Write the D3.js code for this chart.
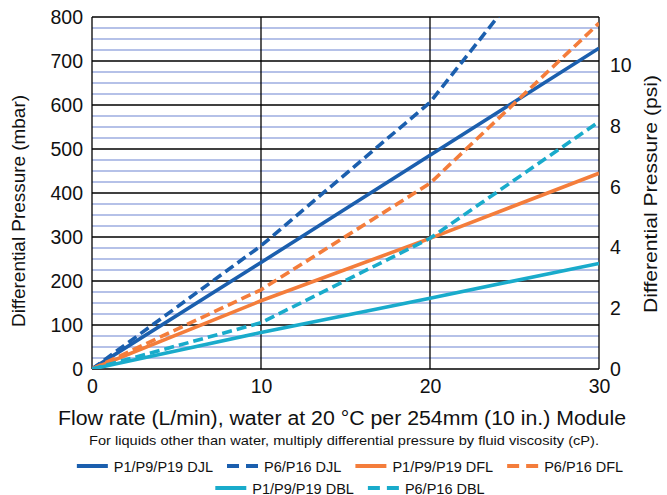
<!DOCTYPE html>
<html>
<head>
<meta charset="utf-8">
<script src="https://cdn.jsdelivr.net/npm/d3@7"></script>
<style>
  body { margin: 0; background: #fff; }
  text { font-family: "Liberation Sans", Arial, Helvetica, sans-serif; fill: #111; }
</style>
</head>
<body>
<div class="chart"></div>
<script>
// flow rate (L/min) and differential pressure (mbar)
const flow = [0, 10, 20, 30];
const djlSolid  = [0, 242, 486, 729];
const djlDashed = [0, 280, 606, 1090];
const dflSolid  = [0, 155, 297, 445];
const dflDashed = [0, 180, 422, 786];
const dblSolid  = [0, 83, 161, 240];
const dblDashed = [0, 105, 297, 562];

const seriesNames = ["P1/P9/P19 DJL", "P6/P16 DJL", "P1/P9/P19 DFL", "P6/P16 DFL", "P1/P9/P19 DBL", "P6/P16 DBL"];
const seriesValues = [djlSolid, djlDashed, dflSolid, dflDashed, dblSolid, dblDashed];
const seriesColors = ["#1b5fae", "#1b5fae", "#f47d3b", "#f47d3b", "#19abcb", "#19abcb"];
const seriesDashed = [false, true, false, true, false, true];

const xTicks = [0, 10, 20, 30];
const yTicks = [0, 100, 200, 300, 400, 500, 600, 700, 800];
const psiTicks = [0, 2, 4, 6, 8, 10];
const MBAR_PER_PSI = 68.948;

const W = 667, H = 495;
const margin = {top: 17, left: 92, right: 68, bottom: 126};
const width = W - margin.left - margin.right;
const height = H - margin.top - margin.bottom;

const svg = d3.select('.chart').append('svg')
    .attr('width', W).attr('height', H);

const g = svg.append('g')
    .attr('transform', `translate(${margin.left},${margin.top})`);

const x = d3.scaleLinear().domain([0, 30]).range([0, width]);
const y = d3.scaleLinear().domain([0, 800]).range([height, 0]);
const yPsi = d3.scaleLinear().domain([0, 800 / MBAR_PER_PSI]).range([height, 0]);

// minor grid every 25 mbar
g.append('g').selectAll('line')
    .data(d3.range(25, 800, 25).filter(v => v % 100 !== 0))
    .join('line')
    .attr('x1', 0).attr('x2', width)
    .attr('y1', d => y(d)).attr('y2', d => y(d))
    .attr('stroke', '#9dace0').attr('stroke-width', 1.3);

// major grid
g.append('g').selectAll('line')
    .data(yTicks)
    .join('line')
    .attr('x1', 0).attr('x2', width)
    .attr('y1', d => y(d)).attr('y2', d => y(d))
    .attr('stroke', '#000').attr('stroke-width', 1.3);

g.append('g').selectAll('line')
    .data(xTicks)
    .join('line')
    .attr('x1', d => x(d)).attr('x2', d => x(d))
    .attr('y1', 0).attr('y2', height)
    .attr('stroke', '#000').attr('stroke-width', 1.3);

// series lines
g.append('clipPath').attr('id', 'plot')
    .append('rect').attr('width', width).attr('height', height);

const line = d3.line()
    .x((d, i) => x(flow[i]))
    .y(d => y(d));

g.append('g').attr('clip-path', 'url(#plot)')
    .selectAll('path')
    .data(seriesValues)
    .join('path')
    .attr('d', line)
    .attr('fill', 'none')
    .attr('stroke', (d, i) => seriesColors[i])
    .attr('stroke-width', 3.6)
    .attr('stroke-dasharray', (d, i) => seriesDashed[i] ? '10,5' : null);

// axes
const fs = 19.5;
g.append('g')
    .call(d3.axisLeft(y).tickValues(yTicks).tickSize(0).tickPadding(9))
    .call(a => a.select('.domain').remove())
    .selectAll('text')
    .attr('font-size', fs).attr('font-family', null);

g.append('g')
    .attr('transform', `translate(${width},0)`)
    .call(d3.axisRight(yPsi).tickValues(psiTicks).tickSize(0).tickPadding(11))
    .call(a => a.select('.domain').remove())
    .selectAll('text')
    .attr('font-size', fs).attr('font-family', null);

g.append('g')
    .attr('transform', `translate(0,${height})`)
    .call(d3.axisBottom(x).tickValues(xTicks).tickSize(0).tickPadding(10))
    .call(a => a.select('.domain').remove())
    .selectAll('text')
    .attr('font-size', fs).attr('font-family', null);

// axis titles
svg.append('text')
    .attr('transform', `translate(25,211) rotate(-90)`)
    .attr('text-anchor', 'middle')
    .attr('font-size', 19)
    .attr('textLength', 232).attr('lengthAdjust', 'spacingAndGlyphs')
    .text('Differential Pressure (mbar)');

svg.append('text')
    .attr('transform', `translate(657,194) rotate(-90)`)
    .attr('text-anchor', 'middle')
    .attr('font-size', 19)
    .attr('textLength', 238).attr('lengthAdjust', 'spacingAndGlyphs')
    .text('Differential Pressure (psi)');

svg.append('text')
    .attr('x', 342).attr('y', 425)
    .attr('text-anchor', 'middle')
    .attr('font-size', 20)
    .attr('textLength', 568).attr('lengthAdjust', 'spacingAndGlyphs')
    .text('Flow rate (L/min), water at 20 °C per 254mm (10 in.) Module');

svg.append('text')
    .attr('x', 344).attr('y', 445)
    .attr('text-anchor', 'middle')
    .attr('font-size', 13.5)
    .attr('textLength', 510).attr('lengthAdjust', 'spacingAndGlyphs')
    .text('For liquids other than water, multiply differential pressure by fluid viscosity (cP).');

// legend: two centred rows
const rows = [[0, 1, 2, 3], [4, 5]];
const rowY = [466, 488];
const swatch = 31, gap = 6, itemGap = 14;

rows.forEach((idx, r) => {
    const row = svg.append('g');
    let cx = 0;
    idx.forEach(i => {
        const item = row.append('g').attr('transform', `translate(${cx},0)`);
        item.append('line')
            .attr('x1', 0).attr('x2', swatch)
            .attr('y1', 0).attr('y2', 0)
            .attr('stroke', seriesColors[i])
            .attr('stroke-width', 4)
            .attr('stroke-dasharray', seriesDashed[i] ? '12,7' : null);
        const t = item.append('text')
            .attr('x', swatch + gap).attr('y', 5.5)
            .attr('font-size', 14.5)
            .text(seriesNames[i]);
        cx += swatch + gap + t.node().getComputedTextLength() + itemGap;
    });
    const total = cx - itemGap;
    row.attr('transform', `translate(${350 - total / 2},${rowY[r]})`);
});
</script>
</body>
</html>
